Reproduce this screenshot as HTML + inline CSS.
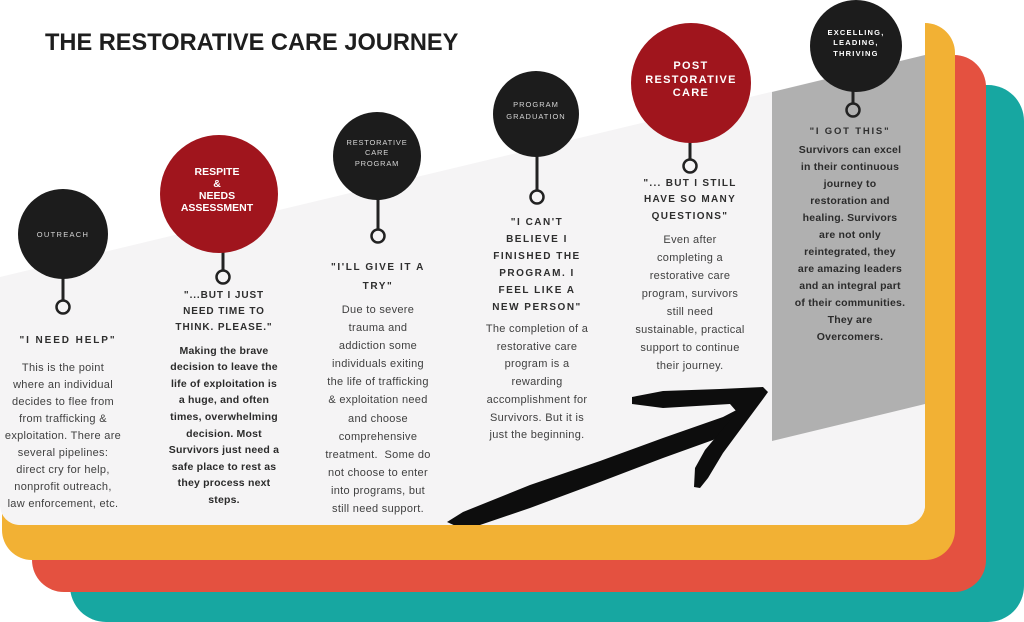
<!DOCTYPE html>
<html><head><meta charset="utf-8">
<style>
html,body{margin:0;padding:0;background:#fff;}
#c{position:relative;width:1024px;height:622px;overflow:hidden;background:#fff;font-family:"Liberation Sans",Arial,sans-serif;}
.l{position:absolute;}
.t{position:absolute;text-align:center;white-space:nowrap;transform:translateX(-50%);}
.h{font-weight:bold;font-size:10px;color:#2e2e2e;}
.b{font-size:11px;color:#404040;letter-spacing:0.3px;}
.bb{font-size:10.5px;font-weight:bold;color:#2b2b2b;letter-spacing:0.2px;}
.cl{font-size:7.5px;color:#d4d4d4;}
.wl{font-weight:bold;color:#fff;}
</style></head><body><div id="c">
<div class="l" style="left:70px;top:85px;width:954px;height:537px;background:#17a7a1;border-radius:36px;"></div>
<div class="l" style="left:32px;top:55px;width:954px;height:537px;background:#e45140;border-radius:32px;"></div>
<div class="l" style="left:2px;top:23px;width:953px;height:537px;background:#f2b134;border-radius:30px;"></div>
<div class="l" style="left:0;top:0;width:925px;height:525px;background:#fff;border-radius:20px;overflow:hidden;">
<svg width="925" height="525" viewBox="0 0 925 525" xmlns="http://www.w3.org/2000/svg" style="position:absolute;left:0;top:0;">
<polygon points="0,277 925,55 925,525 0,525" fill="#f5f4f5"/>
<polygon points="772,92 925,55 925,404 772,441" fill="#b0b0b0"/>
<g stroke="#222" stroke-width="3" fill="none">
<line x1="63" y1="270" x2="63" y2="301"/>
<line x1="223" y1="245" x2="223" y2="271"/>
<line x1="378" y1="190" x2="378" y2="230"/>
<line x1="537" y1="150" x2="537" y2="191"/>
<line x1="690" y1="135" x2="690" y2="160"/>
<line x1="853" y1="85" x2="853" y2="104"/>
</g>
<g stroke="#222" stroke-width="2.5" fill="none">
<circle cx="63" cy="307" r="6.5"/>
<circle cx="223" cy="277" r="6.5"/>
<circle cx="378" cy="236" r="6.5"/>
<circle cx="537" cy="197" r="6.5"/>
<circle cx="690" cy="166" r="6.5"/>
<circle cx="853" cy="110" r="6.5"/>
</g>
<circle cx="63" cy="234" r="45" fill="#1c1c1c"/>
<circle cx="219" cy="194" r="59" fill="#a0151d"/>
<circle cx="377" cy="156" r="44" fill="#1c1c1c"/>
<circle cx="536" cy="114" r="43" fill="#1c1c1c"/>
<circle cx="691" cy="83" r="60" fill="#a0151d"/>
<circle cx="856" cy="46" r="46" fill="#1c1c1c"/>
<polygon fill="#0d0d0d" points="447,522 463,512 530,485 600,461 663,438 723,417 750,403 760,400 743,420 713,440 663,458 600,482 530,508 480,525 458,527"/>
<polygon fill="#0d0d0d" points="632,397 663,391 720,389 763,387 768,392 763,399 740,430 723,453 708,478 700,488 694,487 695,468 705,450 737,412 730,404 663,408 632,404"/>
</svg>
</div>

<div class="l" style="left:45px;top:32px;font-size:23.6px;line-height:23.6px;font-weight:bold;color:#1e1e1e;white-space:nowrap;">THE RESTORATIVE CARE JOURNEY</div>

<!-- Col 1 -->
<div class="t cl" style="left:63px;top:230px;line-height:10px;letter-spacing:1.3px;">OUTREACH</div>
<div class="t h" style="left:68px;top:333px;line-height:16px;letter-spacing:1.9px;">"I NEED HELP"</div>
<div class="t b" style="left:63px;top:359.5px;line-height:17.1px;">This is the point<br>where an individual<br>decides to flee from<br>from trafficking &amp;<br>exploitation. There are<br>several pipelines:<br>direct cry for help,<br>nonprofit outreach,<br>law enforcement, etc.</div>

<!-- Col 2 -->
<div class="t wl" style="left:217px;top:166px;line-height:12px;font-size:10.5px;">RESPITE<br>&amp;<br>NEEDS<br>ASSESSMENT</div>
<div class="t h" style="left:224px;top:288px;line-height:16px;letter-spacing:0.9px;">"...BUT I JUST<br>NEED TIME TO<br>THINK. PLEASE."</div>
<div class="t bb" style="left:224px;top:342.7px;line-height:16.6px;">Making the brave<br>decision to leave the<br>life of exploitation is<br>a huge, and often<br>times, overwhelming<br>decision. Most<br>Survivors just need a<br>safe place to rest as<br>they process next<br>steps.</div>

<!-- Col 3 -->
<div class="t cl" style="left:377px;top:137.75px;line-height:10.5px;letter-spacing:0.8px;">RESTORATIVE<br>CARE<br>PROGRAM</div>
<div class="t h" style="left:378px;top:259px;line-height:18.5px;letter-spacing:1.6px;">"I'LL GIVE IT A<br>TRY"</div>
<div class="t b" style="left:378px;top:301px;line-height:18.1px;">Due to severe<br>trauma and<br>addiction some<br>individuals exiting<br>the life of trafficking<br>&amp; exploitation need<br>and choose<br>comprehensive<br>treatment.&nbsp; Some do<br>not choose to enter<br>into programs, but<br>still need support.</div>

<!-- Col 4 -->
<div class="t cl" style="left:536px;top:99px;line-height:12px;letter-spacing:1px;">PROGRAM<br>GRADUATION</div>
<div class="t h" style="left:537px;top:213.5px;line-height:17px;letter-spacing:1.5px;">"I CAN'T<br>BELIEVE I<br>FINISHED THE<br>PROGRAM. I<br>FEEL LIKE A<br>NEW PERSON"</div>
<div class="t b" style="left:537px;top:321px;line-height:17.7px;">The completion of a<br>restorative care<br>program is a<br>rewarding<br>accomplishment for<br>Survivors. But it is<br>just the beginning.</div>

<!-- Col 5 -->
<div class="t wl" style="left:691px;top:60.25px;line-height:13.5px;font-size:11px;letter-spacing:1.3px;">POST<br>RESTORATIVE<br>CARE</div>
<div class="t h" style="left:690px;top:175.75px;line-height:16.5px;letter-spacing:1.3px;">"... BUT I STILL<br>HAVE SO MANY<br>QUESTIONS"</div>
<div class="t b" style="left:690px;top:231px;line-height:18px;">Even after<br>completing a<br>restorative care<br>program, survivors<br>still need<br>sustainable, practical<br>support to continue<br>their journey.</div>

<!-- Col 6 -->
<div class="t wl" style="left:856px;top:27.75px;line-height:10.5px;font-size:7.5px;letter-spacing:1.2px;">EXCELLING,<br>LEADING,<br>THRIVING</div>
<div class="t h" style="left:850px;top:124px;line-height:16px;letter-spacing:1.8px;font-size:9.5px;">"I GOT THIS"</div>
<div class="t bb" style="left:850px;top:141.5px;line-height:17px;">Survivors can excel<br>in their continuous<br>journey to<br>restoration and<br>healing. Survivors<br>are not only<br>reintegrated, they<br>are amazing leaders<br>and an integral part<br>of their communities.<br>They are<br>Overcomers.</div>

</div></body></html>
